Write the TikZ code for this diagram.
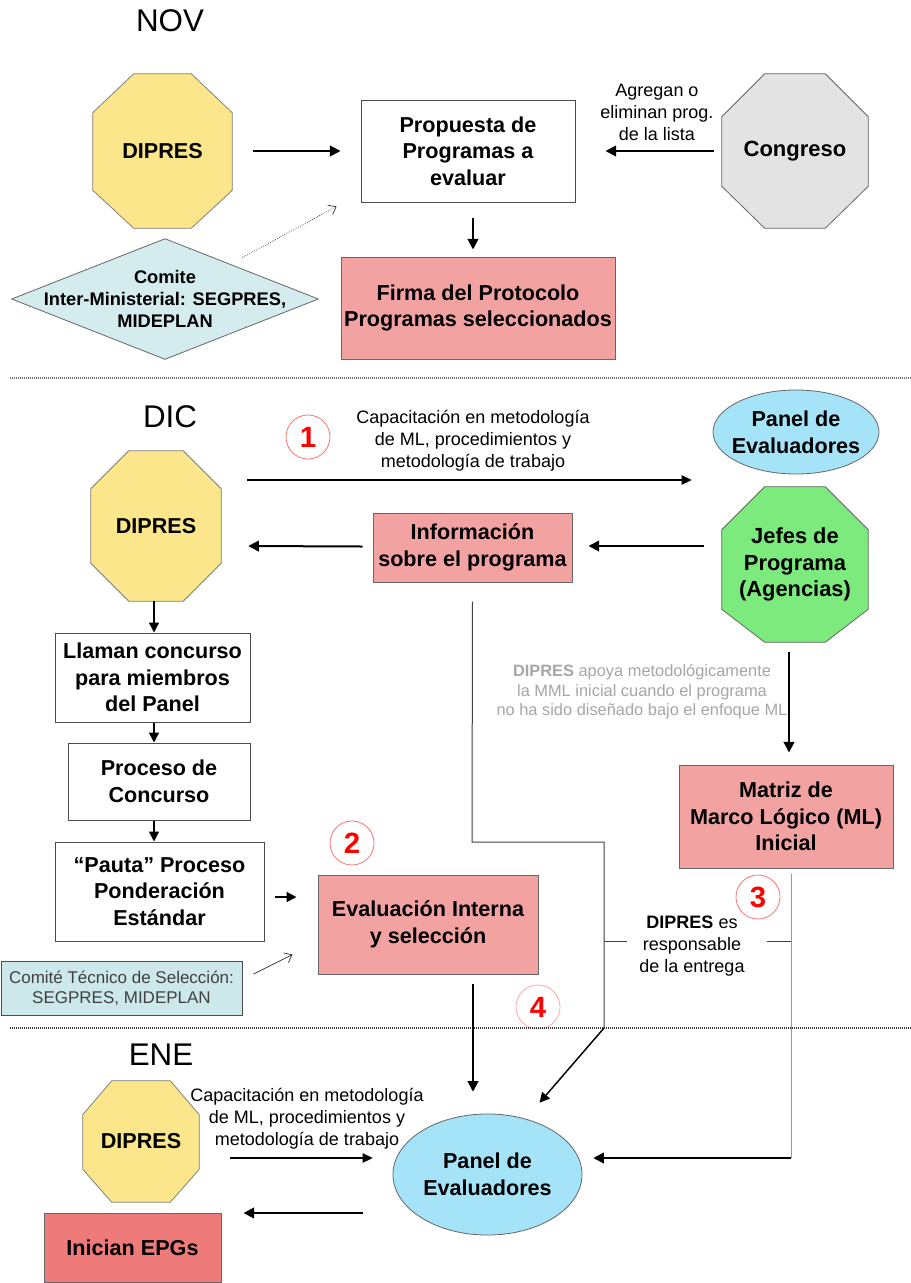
\documentclass[tikz,border=0pt]{standalone}
\usepackage{fontspec}
\setmainfont{Liberation Sans}
\usetikzlibrary{arrows.meta,calc,backgrounds}

\definecolor{yelfill}{HTML}{FBE68C}
\definecolor{redfill}{HTML}{F3A2A2}
\definecolor{redfilldark}{HTML}{EE7A7A}
\definecolor{bluefill}{HTML}{A4E3F8}
\definecolor{greenfill}{HTML}{7DEA7D}
\definecolor{grayfill}{HTML}{E3E3E3}
\definecolor{cyanfill}{HTML}{D5ECEF}
\definecolor{tecfill}{HTML}{CCE8EA}
\definecolor{graytext}{HTML}{A6A6A6}

\newcommand\octshape[5]{%
  \path[#1] ($(#2.north west)+(#3,0)$) -- ($(#2.north east)+(-#3,0)$)
    -- ($(#2.north east)+(0,#4)$) -- ($(#2.south east)+(0,-#5)$)
    -- ($(#2.south east)+(-#3,0)$) -- ($(#2.south west)+(#3,0)$)
    -- ($(#2.south west)+(0,-#5)$) -- ($(#2.north west)+(0,#4)$) -- cycle;}

\begin{document}
\begin{tikzpicture}[x=0.75pt,y=-0.75pt,
  sz/.style 2 args={minimum width=#1*0.75pt, minimum height=#2*0.75pt},
  bt/.style={font=\bfseries\fontsize{16.2}{20}\selectfont},
  inv/.style={inner sep=0pt, align=center, bt},
  box/.style={draw=black!70, line width=0.75pt, fill=white, inner sep=0pt, align=center, bt},
  redbox/.style={box, fill=redfill, draw=black!60},
  tecbox/.style={draw=black!70, line width=0.75pt, fill=tecfill, inner sep=0pt, align=center,
     text=black!75, font=\fontsize{12.75}{15}\selectfont},
  title/.style={font=\fontsize{23.5}{28}\selectfont, inner sep=0pt},
  lbl/.style={align=center, inner sep=2pt, font=\fontsize{13.5}{16.5}\selectfont},
  graylbl/.style={align=center, inner sep=2pt, text=graytext, font=\fontsize{12.3}{14.6}\selectfont},
  numc/.style={circle, draw=red!55, line width=0.6pt, text=red, inner sep=0pt,
     minimum size=33pt, font=\bfseries\fontsize{22}{22}\selectfont},
  thickarrow/.style={line width=1.5pt, -{Triangle[length=8pt,width=8pt]}},
  midarrow/.style={line width=1.1pt, -{Triangle[length=7.5pt,width=7.5pt]}},
  thinarrow/.style={line width=0.8pt, -{Triangle[length=7.5pt,width=7pt]}},
  openarrow/.style={line width=0.5pt, black!85, -{Straight Barb[length=5pt,width=8pt]}},
  darkline/.style={line width=0.75pt, black!75},
  grayline/.style={line width=0.75pt, black!40},
  sep/.style={line width=1.3pt, dash pattern=on 0.75pt off 0.75pt}
]
\useasboundingbox (0,0) rectangle (911,1283);

% ---------------- NOV ----------------
\node[title] (nov) at (170,21) {NOV};
\node[inv, sz={139}{154}] (dip1) at (162.5,151) {DIPRES};
\node[box, sz={214}{102}] (prop) at (468,151) {Propuesta de\\Programas a\\evaluar};
\node[inv, sz={146}{154}, font=\bfseries\fontsize{16.5}{20}\selectfont] (cong) at (795,151) {Congreso};
\node[lbl] (agr) at (657,112) {Agregan o\\eliminan prog.\\de la lista};
\node[redbox, sz={274}{102}] (firma) at (478,308) {Firma del Protocolo\\Programas seleccionados};
\node[inv, sz={306}{120}, font=\bfseries\fontsize{13.7}{16.5}\selectfont] (comite) at (165,299) {Comite\\Inter-Ministerial: SEGPRES,\\MIDEPLAN};

\draw[thickarrow] ($(dip1.east)+(21,0)$) -- ($(prop.west)+(-20,0)$);
\draw[thickarrow] ($(cong.west)+(-8,0)$) -- ($(prop.east)+(30,0)$);
\draw[thickarrow] ($(prop.south)+(5,15)$) -- ($(firma.north)+(-5,-7)$);
\draw[openarrow, densely dotted] ($(comite.north)+(77,19)$) -- ($(prop.south west)+(-24,4)$);

\draw[sep, black!55] (10,378) -- (911,378);

% ---------------- DIC ----------------
\node[title] (dic) at (170,416.5) {DIC};
\node[numc] (n1) at (308,437) {1};
\node[lbl] (cap1) at (473,441) {Capacitación en metodología\\de ML, procedimientos y\\metodología de trabajo};
\node[inv, sz={166}{84}] (panel1) at (796,432) {Panel de\\Evaluadores};
\node[inv, sz={130}{150}] (dip2) at (156,526) {DIPRES};
\node[redbox, sz={199}{69}] (info) at (472.5,547.5) {Información\\sobre el programa};
\node[inv, sz={146}{155}, font=\bfseries\fontsize{16.4}{20}\selectfont] (jefes) at (795,564.5) {Jefes de\\Programa\\(Agencias)};
\node[graylbl] (apoya) at (642,692) {\textbf{DIPRES} apoya metodológicamente\\la MML inicial cuando el programa\\no ha sido diseñado bajo el enfoque ML};
\node[redbox, sz={214}{103}] (matriz) at (786,816.5) {Matriz de\\Marco Lógico (ML)\\Inicial};
\node[box, sz={195}{89}] (llaman) at (152.5,677.5) {Llaman concurso\\para miembros\\del Panel};
\node[box, sz={182}{77}] (proceso) at (159,781.5) {Proceso de\\Concurso};
\node[box, sz={209}{99}] (pauta) at (159.5,891.5) {“Pauta” Proceso\\Ponderación\\Estándar};
\node[tecbox, sz={241}{54}] (comtec) at (121.5,988) {Comité Técnico de Selección:\\SEGPRES, MIDEPLAN};
\node[numc] (n2) at (352,843) {2};
\node[redbox, sz={220}{99}] (eval) at (428,924.5) {Evaluación Interna\\y selección};
\node[numc] (n3) at (758,897) {3};
\node[numc, draw=red!35] (n4) at (538,1007) {4};
\node[lbl] (resp) at (692,946) {\textbf{DIPRES} es\\responsable\\de la entrega};

\coordinate (b1) at (472,842);
\coordinate (b2) at (604,842);
\coordinate (b3) at (604,1028);
\coordinate (b4) at (791,1158);
\coordinate (s1) at (604,941);
\coordinate (s2) at (791,941);

\draw[thinarrow] ($(dip2.east)+(26,-46)$) -- ($(panel1.west)+(-21,48)$);
\draw[thickarrow] ($(info.west)+(-10,-1)$) -- ($(dip2.east)+(27,20)$);
\draw[thickarrow] ($(jefes.west)+(-18,-18.5)$) -- ($(info.east)+(16,-1.5)$);
\draw[thickarrow] ($(jefes.south)+(-6,10)$) -- ($(matriz.north)+(3,-12)$);
\draw[midarrow] ($(dip2.south)+(-2,0)$) -- ($(llaman.north)+(1.5,0)$);
\draw[midarrow] ($(llaman.south)+(1.5,0)$) -- ($(proceso.north)+(-5,0)$);
\draw[midarrow] ($(proceso.south)+(-5,0)$) -- ($(pauta.north)+(-5.5,0)$);
\draw[midarrow] ($(pauta.east)+(10,5.5)$) -- ($(eval.west)+(-21,-27.5)$);
\draw[openarrow] ($(comtec.east)+(11,-14)$) -- ($(eval.south west)+(-25,-20)$);

\draw[darkline] ($(info.south)+(0,19)$) -- (b1) -- (b2) -- (b3);
\draw[grayline] ($(matriz.south)+(5,5)$) -- (b4);
\draw[darkline, shorten >=7pt] (s1) -- (s1 -| resp.west);
\draw[darkline, shorten >=15pt] (s2) -- (s2 -| resp.east);

\draw[sep, black!80] (10,1028) -- (911,1028);

% ---------------- ENE ----------------
\node[title] (ene) at (161,1054.5) {ENE};
\node[inv, sz={116}{121}] (dip3) at (141,1141.5) {DIPRES};
\node[lbl] (cap3) at (307,1119) {Capacitación en metodología\\de ML, procedimientos y\\metodología de trabajo};
\node[inv, sz={189}{121}] (panel3) at (487.5,1174.5) {Panel de\\Evaluadores};
\node[redbox, fill=redfilldark, sz={177}{69}] (inicia) at (132.5,1247.5) {Inician EPGs};

\draw[thickarrow] ($(eval.south)+(45,9)$) -- ($(panel3.north)+(-14.5,-22)$);
\draw[midarrow] (b3) -- ($(panel3.north)+(52,-11)$);
\draw[thickarrow] (b4) -- ($(panel3.east)+(11,-16.5)$);
\draw[thinarrow] ($(dip3.east)+(31,16.5)$) -- ($(panel3.west)+(-20,-16.5)$);
\draw[thickarrow] ($(panel3.west)+(-30,38.5)$) -- ($(inicia.east)+(22,-34.5)$);

% ---------------- shapes behind ----------------
\begin{scope}[on background layer]
  \fill[white] (0,0) rectangle (911,1283);
  \octshape{fill=yelfill, draw=black!50, line width=0.6pt}{dip1}{41}{39}{38}
  \octshape{fill=grayfill, draw=black!60, line width=0.6pt}{cong}{43}{43}{42}
  \octshape{fill=yelfill, draw=black!50, line width=0.6pt}{dip2}{38}{38}{38}
  \octshape{fill=greenfill, draw=black!60, line width=0.6pt}{jefes}{43}{43}{33}
  \octshape{fill=yelfill, draw=black!50, line width=0.6pt}{dip3}{29}{34}{33}
  \path[fill=cyanfill, draw=black!60, line width=0.6pt] (comite.north) -- (comite.east) -- (comite.south) -- (comite.west) -- cycle;
  \path[fill=bluefill, draw=black!60, line width=0.6pt] (panel1.center) ellipse [x radius=62.25pt, y radius=31.5pt];
  \path[fill=bluefill, draw=black!60, line width=0.6pt] (panel3.center) ellipse [x radius=70.9pt, y radius=45.4pt];
\end{scope}
\end{tikzpicture}
\end{document}
